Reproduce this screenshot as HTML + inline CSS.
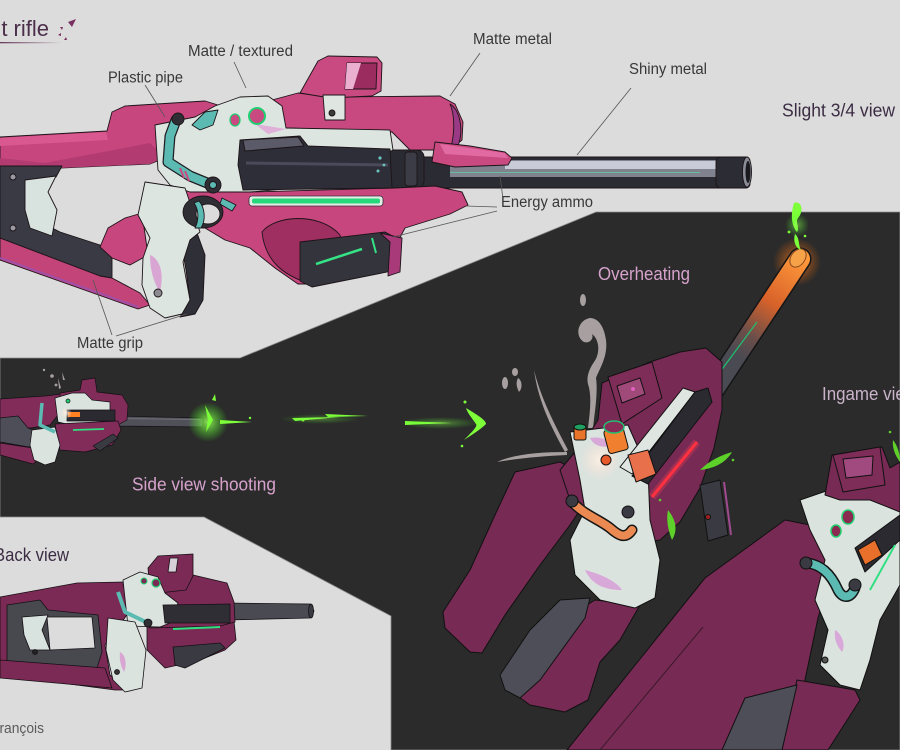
<!DOCTYPE html>
<html><head><meta charset="utf-8"><style>
html,body{margin:0;padding:0;background:#dcdcdc;overflow:hidden}
svg{display:block}
text{font-family:"Liberation Sans",sans-serif}
</style></head><body>
<svg width="900" height="750" viewBox="0 0 900 750" xmlns="http://www.w3.org/2000/svg">
<defs>
 <radialGradient id="gglow"><stop offset="0" stop-color="#9dff5a" stop-opacity="0.85"/><stop offset="1" stop-color="#40ff20" stop-opacity="0"/></radialGradient>
 <radialGradient id="oglow"><stop offset="0" stop-color="#ff8a30" stop-opacity="0.75"/><stop offset="1" stop-color="#ff6a00" stop-opacity="0"/></radialGradient>
 <radialGradient id="wglow"><stop offset="0" stop-color="#fff2e6" stop-opacity="0.9"/><stop offset="1" stop-color="#ffe0d0" stop-opacity="0"/></radialGradient>
 <linearGradient id="ul" x1="0" x2="1"><stop offset="0" stop-color="#6a3a5a"/><stop offset="1" stop-color="#6a3a5a" stop-opacity="0"/></linearGradient>
 <linearGradient id="hot" x1="803" y1="257" x2="713" y2="387" gradientUnits="userSpaceOnUse"><stop offset="0" stop-color="#ff9a3a"/><stop offset="0.35" stop-color="#d8622a"/><stop offset="0.6" stop-color="#6a4e4a"/><stop offset="0.75" stop-color="#4a4a52"/></linearGradient>
 <filter id="blur2"><feGaussianBlur stdDeviation="2"/></filter>
 <filter id="blur1"><feGaussianBlur stdDeviation="1"/></filter>
</defs>

<!-- backgrounds -->
<rect width="900" height="750" fill="#dcdcdc"/>
<polygon points="0,358 240,358 596,212 900,212 900,750 391,750 391,616 204,517 0,517" fill="#2b2b2b" stroke="#8a8a8a" stroke-width="0.8"/>

<!-- title -->
<text x="49" y="36" font-size="22" fill="#4b2f4a" text-anchor="end">Assault rifle</text>
<rect x="0" y="42" width="62" height="1.3" fill="url(#ul)"/>
<path d="M68,22 l8,-3 l-4,8 z M60,27 l3,0 l-1,3 z M58,35 l3,-2 l0,3 z M64,40 l2,-3 l1,3 z" fill="#7a3060"/>

<!-- ============ MAIN RIFLE ============ -->
<g stroke="#1c1418" stroke-width="0.9" stroke-linejoin="round">
 <!-- barrel -->
 <rect x="405" y="157" width="345" height="31" rx="4" fill="#2b2b33"/>
 <rect x="450" y="160" width="268" height="17" fill="#80828f" stroke="none"/>
 <rect x="505" y="161" width="213" height="8" fill="#c8cad8" stroke="none"/>
 <line x1="450" y1="172.5" x2="700" y2="172.5" stroke="#5fd0a0" stroke-width="0.8"/>
 <rect x="716" y="157" width="34" height="31" rx="5" fill="#2c2c34"/>
 <ellipse cx="747" cy="172" rx="4.5" ry="15" fill="#8a8c98"/>
 <ellipse cx="748" cy="172" rx="2.5" ry="11" fill="#1a1a1e" stroke="none"/>
 <rect x="386" y="150" width="38" height="38" rx="7" fill="#2a2a32"/>
 <rect x="405" y="152" width="12" height="34" rx="3" fill="#3c3c46"/>

 <!-- stock upper bar -->
 <polygon points="0,137 107,131 112,112 125,106 205,101 218,105 205,125 180,140 165,158 150,164 60,168 0,170" fill="#c8467e"/>
 <polygon points="0,158 45,163 150,143 165,157 150,164 60,168 0,170" fill="#b23c72" stroke="none"/>
 <polygon points="0,138 106,132 108,140 0,146" fill="#d9588f" stroke="none"/>
 <!-- stock dark frame -->
 <polygon points="0,166 62,166 56,177 27,180 27,215 60,232 100,245 112,252 112,278 100,276 0,238" fill="#3a3a44"/>
 <polygon points="25,180 56,176 48,192 57,210 52,236 30,228 25,210" fill="#d8e2de"/>
 <circle cx="13" cy="177" r="3" fill="#9a9aa2"/>
 <circle cx="13" cy="228" r="3" fill="#9a9aa2"/>
 <polygon points="100,247 108,228 125,218 142,213 148,255 130,265 112,258" fill="#c8467e"/>
 <polygon points="0,238 100,276 112,278 140,293 150,305 138,309 0,260" fill="#c24478"/>
 <line x1="0" y1="258" x2="138" y2="307" stroke="#a050a8" stroke-width="2"/>

 <!-- lower body -->
 <polygon points="180,190 250,192 395,188 435,186 462,192 468,205 450,214 405,228 396,245 330,260 312,284 298,284 275,268 250,248 225,240 205,228 195,210" fill="#c8467e"/>
 <path d="M262,232 C275,215 320,212 340,235 C345,255 325,272 305,282 C285,275 265,262 262,232 Z" fill="#9e2f60"/>
 <!-- magazine -->
 <polygon points="300,242 385,232 400,240 397,270 312,287 300,281" fill="#34343c"/>
 <polygon points="380,233 402,238 400,272 388,276 390,242" fill="#a83a7a"/>
 <line x1="316" y1="264" x2="362" y2="249" stroke="#35e285" stroke-width="2.5"/>
 <line x1="372" y1="238" x2="376" y2="253" stroke="#35e285" stroke-width="2"/>

 <!-- upper receiver -->
 <polygon points="272,100 298,93 330,97 440,96 455,104 463,122 462,140 450,150 410,150 392,132 286,128" fill="#c84880"/>
 <path d="M450,104 C460,110 464,130 458,146 L450,150 C455,135 455,115 450,104 Z" fill="#9a3a86"/>
 <!-- sight -->
 <polygon points="300,93 318,61 328,56 377,57 382,63 381,91 372,96 330,98" fill="#c94a80"/>
 <polygon points="347,63 377,63 376,89 345,89" fill="#9a2c60"/>
 <polygon points="347,63 361,63 353,89 345,89" fill="#ebb0d0" stroke="none"/>
 <polygon points="323,95 345,95 345,120 325,120" fill="#dfe6e2"/>
 <circle cx="332" cy="113" r="3" fill="#3a3a3a"/>

 <!-- white body -->
 <polygon points="155,125 195,117 215,106 240,97 268,96 282,106 286,128 390,130 393,150 330,185 250,192 215,192 190,192 170,185 158,170" fill="#dde5e1"/>
 <polygon points="255,124 286,129 268,134" fill="#e0b0d8" stroke="none"/>
 <!-- chamber -->
 <polygon points="240,140 300,136 308,146 390,149 392,188 243,190 238,165" fill="#2e2e38"/>
 <polygon points="243,140 298,137 304,146 245,151" fill="#5a5a68"/>
 <line x1="246" y1="163" x2="388" y2="165" stroke="#4a4a5a" stroke-width="3"/>
 <g fill="#6cc6c0" stroke="none"><circle cx="380" cy="158" r="1.6"/><circle cx="384" cy="165" r="1.4"/><circle cx="378" cy="171" r="1.5"/></g>

 <!-- handguard -->
 <polygon points="435,142 470,146 505,152 512,158 508,165 455,167 432,162" fill="#c94a80"/>
 <polygon points="440,144 505,153 508,158 445,154" fill="#e26aa2" stroke="none"/>

 <!-- energy stripe -->
 <rect x="249" y="196" width="134" height="10" rx="3" fill="#e5ece8" stroke="#333" stroke-width="0.8"/>
 <rect x="252" y="198.5" width="128" height="5" rx="2" fill="#26d97a" stroke="none"/>

 <!-- grip -->
 <polygon points="180,236 197,233 205,255 203,300 195,314 180,317 190,300 186,270" fill="#2f2f37"/>
 <polygon points="145,182 185,188 200,232 190,240 183,262 190,300 182,314 165,318 150,308 142,285 143,258 150,238 138,215" fill="#dde5e1"/>
 <path d="M150,255 C158,258 165,270 160,292 C155,285 150,272 150,255 Z" fill="#d9a6d4" stroke="none"/>
 <circle cx="158" cy="293" r="4" fill="#8a8a90"/>
 <!-- trigger guard -->
 <ellipse cx="203" cy="212" rx="20" ry="16" fill="#2e2e34"/>
 <ellipse cx="208" cy="214" rx="12" ry="10" fill="#dcdcdc"/>
 <path d="M194,203 C199,210 199,220 195,228 L201,228 C206,220 205,208 199,201 Z" fill="#5bbab2"/>
 <polygon points="222,198 236,205 232,211 220,204" fill="#5bbab2"/>
 <!-- teal piece top -->
 <polygon points="192,125 205,112 218,110 213,125 200,130" fill="#5bbab2"/>
 <!-- pipe -->
 <path d="M176,120 L170,136 L168,162 L190,176 L212,185" fill="none" stroke="#1e1e22" stroke-width="11" stroke-linecap="round"/>
 <path d="M176,120 L170,136 L168,162 L190,176 L212,185" fill="none" stroke="#5bbab2" stroke-width="8.5" stroke-linecap="round" stroke-linejoin="round"/>
 <line x1="180" y1="168" x2="184" y2="178" stroke="#c94a80" stroke-width="2"/>
 <line x1="185" y1="171" x2="189" y2="181" stroke="#c94a80" stroke-width="2"/>
 <circle cx="178" cy="119" r="6" fill="#2e2e34"/>
 <circle cx="213" cy="185" r="8" fill="#2e2e34"/>
 <circle cx="213" cy="185" r="3.5" fill="#5bbab2"/>
 <!-- circles -->
 <ellipse cx="235" cy="120" rx="5" ry="6" fill="#c94a80" stroke="#20d070" stroke-width="1.3"/>
 <ellipse cx="257" cy="116" rx="8" ry="8" fill="#c94a80" stroke="#20d070" stroke-width="2"/>
</g>

<!-- labels top -->
<g stroke="#555" stroke-width="0.8">
 <line x1="145" y1="85" x2="165" y2="117"/>
 <line x1="234" y1="62" x2="246" y2="88"/>
 <line x1="480" y1="53" x2="450" y2="96"/>
 <line x1="631" y1="88" x2="577" y2="155"/>
 <line x1="497" y1="207" x2="466" y2="206"/>
 <line x1="497" y1="211" x2="393" y2="237"/>
 <line x1="500" y1="176" x2="503" y2="199"/>
 <line x1="112" y1="335" x2="93" y2="280"/>
 <line x1="116" y1="336" x2="187" y2="314"/>
</g>
<g fill="#383838" font-size="15.5">
 <text x="108" y="82.5" textLength="75" lengthAdjust="spacingAndGlyphs">Plastic pipe</text>
 <text x="188" y="56" textLength="105" lengthAdjust="spacingAndGlyphs">Matte / textured</text>
 <text x="473" y="44" textLength="79" lengthAdjust="spacingAndGlyphs">Matte metal</text>
 <text x="629" y="74" textLength="78" lengthAdjust="spacingAndGlyphs">Shiny metal</text>
 <text x="501" y="207" textLength="92" lengthAdjust="spacingAndGlyphs">Energy ammo</text>
 <text x="77" y="348" textLength="66" lengthAdjust="spacingAndGlyphs">Matte grip</text>
</g>
<text x="782" y="116.5" font-size="18.5" fill="#3b2c44" textLength="113" lengthAdjust="spacingAndGlyphs">Slight 3/4 view</text>

<!-- ============ SIDE VIEW SHOOTING ============ -->
<g stroke="#151015" stroke-width="0.7" stroke-linejoin="round">
 <polygon points="0,399 45,396 62,394 62,410 50,425 30,428 0,428" fill="#822c5a"/>
 <polygon points="0,418 18,416 28,428 55,438 58,447 35,448 0,442" fill="#4e4e58"/>
 <polygon points="0,443 33,448 40,458 33,464 0,455" fill="#822c5a"/>
 <polygon points="113,416 203,418 203,427 113,426" fill="#505058"/>
 <line x1="120" y1="418.5" x2="200" y2="419.5" stroke="#70707a" stroke-width="1"/>
 <polygon points="60,393 80,390 82,380 95,378 97,392 122,395 128,405 127,420 118,425 60,425" fill="#822c5a"/>
 <polygon points="55,398 72,393 85,393 92,400 110,402 110,420 75,426 58,422" fill="#dbe3df"/>
 <rect x="67" y="410" width="48" height="11" fill="#2a2a30"/>
 <rect x="68" y="412" width="12" height="5" fill="#ff8020" stroke="none"/>
 <circle cx="66" cy="413" r="6" fill="url(#wglow)" stroke="none"/>
 <polygon points="55,424 118,421 121,430 112,445 85,452 60,450" fill="#822c5a"/>
 <polygon points="93,446 113,434 118,438 100,451" fill="#3a3a42"/>
 <line x1="73" y1="430" x2="104" y2="429" stroke="#30e080" stroke-width="1.8"/>
 <polygon points="32,430 55,427 60,445 55,462 45,465 34,460 30,445" fill="#dbe3df"/>
 <path d="M42,403 L40,425 L55,432" fill="none" stroke="#5bbab2" stroke-width="3.5"/>
 <circle cx="68" cy="401" r="2" fill="#20d070"/>
</g>
<g fill="#a8a0a0" stroke="none">
 <circle cx="52" cy="376" r="1.8"/><circle cx="44" cy="370" r="1.2"/><circle cx="56" cy="385" r="1.4"/>
 <path d="M58,378 l3,10 l-2,1 z"/><path d="M62,372 l3,8 l-2,0 z"/>
</g>
<!-- muzzle flash & streaks -->
<circle cx="208" cy="422" r="20" fill="url(#gglow)"/>
<g fill="#7dff3a" stroke="none">
 <path d="M205,405 L213,420 L206,432 L208,420 Z"/>
 <path d="M212,400 l3,-6 l1,7 z"/>
 <path d="M220,420 L252,422 L220,424 Z"/>
 <path d="M292,418 L340,417 L295,421 Z"/>
 <path d="M325,414 L368,416 L328,417 Z"/>
 <path d="M405,421 L452,423 L405,425 Z"/>
 <path d="M466,408 C476,414 486,420 486,424 C480,430 470,436 464,440 C472,432 478,426 476,424 C472,418 468,414 466,408 Z"/>
 <circle cx="303" cy="420" r="1.5"/><circle cx="250" cy="418" r="1.2"/><circle cx="465" cy="402" r="1.5"/><circle cx="462" cy="446" r="1.3"/>
</g>
<ellipse cx="440" cy="423" rx="40" ry="6" fill="url(#gglow)" opacity="0.5"/>
<ellipse cx="320" cy="419" rx="40" ry="5" fill="url(#gglow)" opacity="0.4"/>
<text x="132" y="490.5" font-size="18.5" fill="#d6a2cc" textLength="144" lengthAdjust="spacingAndGlyphs">Side view shooting</text>

<!-- ============ BACK VIEW ============ -->
<text x="-6" y="561" font-size="18.5" fill="#3b2c44" textLength="75" lengthAdjust="spacingAndGlyphs">Back view</text>
<text x="-9" y="733" font-size="14.5" fill="#5a5a5a" textLength="53" lengthAdjust="spacingAndGlyphs">François</text>
<g stroke="#151015" stroke-width="0.8" stroke-linejoin="round">
 <polygon points="225,603 310,604 314,611 310,618 225,620" fill="#4a4a52"/>
 <ellipse cx="311" cy="611" rx="2.5" ry="7" fill="#3a3a42"/>
 <polygon points="0,597 77,583 123,582 130,610 120,625 105,645 110,675 130,690 115,690 0,675" fill="#7b2a55"/>
 <polygon points="7,605 40,600 48,610 98,615 102,652 97,668 40,668 7,665" fill="#48484f"/>
 <polygon points="47,617 92,617 95,648 50,650" fill="#dcdcdc"/>
 <polygon points="22,617 48,615 42,630 50,650 30,650 24,635" fill="#d8e2de"/>
 <circle cx="35" cy="652" r="2.5" fill="#222"/>
 <polygon points="0,660 105,668 112,688 0,678" fill="#7b2a55"/>
 <polygon points="147,615 233,612 236,640 225,650 200,660 165,668 147,650" fill="#7b2a55"/>
 <polygon points="173,647 220,643 225,648 185,668 175,665" fill="#3a3a42"/>
 <polygon points="123,585 150,575 193,575 227,583 234,602 235,622 220,626 150,628" fill="#7b2a55"/>
 <polygon points="148,568 158,556 193,554 193,576 186,590 150,594" fill="#7b2a55"/>
 <polygon points="170,558 178,558 176,572 168,572" fill="#d8d0d8"/>
 <polygon points="123,580 140,572 158,577 165,593 178,603 170,623 160,627 128,626" fill="#dbe3df"/>
 <polygon points="163,605 230,604 230,623 165,623" fill="#2e2e34"/>
 <line x1="173" y1="629" x2="220" y2="627" stroke="#30e080" stroke-width="2"/>
 <polygon points="108,618 135,622 146,650 142,688 125,692 113,680 106,650" fill="#dbe3df"/>
 <path d="M120,652 C126,655 127,665 124,672 C121,666 119,660 120,652 Z" fill="#d9a6d4" stroke="none"/>
 <circle cx="117" cy="672" r="2.5" fill="#333"/>
 <path d="M118,592 L125,612 L150,624" fill="none" stroke="#5bbab2" stroke-width="4"/>
 <circle cx="148" cy="623" r="4" fill="#2e2e34"/>
 <circle cx="144" cy="581" r="3" fill="#7b2a55" stroke="#20d070" stroke-width="1"/>
 <circle cx="156" cy="583" r="4" fill="#7b2a55" stroke="#20d070" stroke-width="1.2"/>
</g>

<!-- ============ OVERHEATING ============ -->
<text x="598" y="280" font-size="18.5" fill="#d6a2cc" textLength="92" lengthAdjust="spacingAndGlyphs">Overheating</text>
<circle cx="797" cy="262" r="24" fill="url(#oglow)"/>
<line x1="800" y1="259" x2="712" y2="392" stroke="#151518" stroke-width="23" stroke-linecap="round"/>
<line x1="800" y1="259" x2="712" y2="392" stroke="url(#hot)" stroke-width="20" stroke-linecap="round"/>
<line x1="757" y1="322" x2="717" y2="376" stroke="#20c070" stroke-width="1.2"/>
<ellipse cx="798" cy="258" rx="10" ry="7" transform="rotate(-55 798 258)" fill="#f5a248" stroke="#8a4a20" stroke-width="1"/>
<g fill="#7dff3a" stroke="none">
 <path d="M794,203 C802,200 804,212 798,218 C795,222 800,228 797,232 C792,226 790,216 794,203 Z"/>
 <path d="M795,234 C800,238 798,245 801,250 C795,248 793,240 795,234 Z"/>
 <circle cx="789" cy="232" r="1.4"/><circle cx="805" cy="236" r="1.3"/>
</g>
<circle cx="797" cy="225" r="12" fill="url(#gglow)" opacity="0.6"/>
<!-- smoke -->
<g fill="#a8a0a0" stroke="none">
 <ellipse cx="583" cy="300" rx="3" ry="6"/>
 <path d="M590,318 C578,320 574,336 584,342 C590,344 594,338 592,334 C600,340 600,354 594,362 C590,368 586,376 588,384 C592,396 590,412 588,428 L593,428 C595,410 598,392 596,378 C600,368 608,356 606,340 C604,326 598,318 590,318 Z"/>
 <ellipse cx="505" cy="383" rx="3" ry="6"/>
 <ellipse cx="515" cy="372" rx="3" ry="4"/>
 <path d="M518,378 C522,380 523,388 519,392 C516,386 516,382 518,378 Z"/>
 <path d="M534,370 C540,395 552,420 568,450 L565,452 C550,425 538,400 534,370 Z"/>
 <path d="M497,462 C515,454 540,452 567,452 L567,455 C545,456 520,458 497,462 Z"/>
</g>
<g stroke="#111" stroke-width="1" stroke-linejoin="round">
 <!-- upper prong -->
 <polygon points="515,472 560,462 585,475 590,495 570,525 540,565 505,615 482,653 470,652 445,628 443,612 470,570 495,515" fill="#772a54"/>
 <!-- lower prong -->
 <polygon points="595,600 640,605 620,640 600,662 588,700 565,712 530,705 512,692 520,670 555,625" fill="#772a54"/>
 <polygon points="560,600 590,598 585,618 540,680 520,698 505,690 500,675 530,630" fill="#4e4e58"/>
 <!-- receiver -->
 <polygon points="602,383 650,362 680,352 706,348 722,362 722,410 714,448 700,488 680,522 660,540 630,545 595,520 570,500 560,470 585,440 598,420" fill="#772a54"/>
 <!-- white -->
 <polygon points="570,432 628,425 648,470 650,520 660,560 655,598 635,608 600,600 575,575 570,540 585,510 580,480" fill="#dbe3df"/>
 <circle cx="600" cy="460" r="20" fill="url(#wglow)" stroke="none"/>
 <path d="M585,570 C600,574 615,580 622,590 C605,590 592,585 585,570 Z" fill="#d8a8d8" stroke="none"/>
 <path d="M590,438 C600,436 610,440 612,446 C602,448 594,446 590,438 Z" fill="#d8a8d8" stroke="none"/>
 <!-- ejection strip & chamber -->
 <polygon points="683,388 695,392 632,474 620,467" fill="#dfe6e2"/>
 <polygon points="695,392 708,388 712,402 648,484 632,476" fill="#2a2a30"/>
 <polygon points="628,455 648,450 656,474 636,482" fill="#e8704a"/>
 <line x1="697" y1="442" x2="652" y2="497" stroke="#ff4050" stroke-width="8" opacity="0.3"/>
 <line x1="697" y1="442" x2="652" y2="497" stroke="#ff3040" stroke-width="3"/>
 <!-- sight -->
 <polygon points="608,377 652,362 662,398 622,424" fill="#7e2c58"/>
 <polygon points="617,386 640,378 645,394 622,403" fill="#a04a7a"/>
 <circle cx="633" cy="389" r="2" fill="#e060c0" stroke="none"/>
 <!-- orange bits -->
 <rect x="574" y="426" width="12" height="14" rx="2" fill="#e8742a"/>
 <ellipse cx="580" cy="427" rx="6" ry="3" fill="#20a060"/>
 <rect x="606" y="428" width="20" height="24" rx="3" fill="#f08030" transform="rotate(-15 616 440)"/>
 <ellipse cx="614" cy="427" rx="10" ry="6" fill="#8a2c58" stroke="#20c070" stroke-width="1.5"/>
 <circle cx="606" cy="460" r="5" fill="#e85a2a"/>
 <!-- pipe -->
 <path d="M573,503 C585,515 600,520 610,528 C618,535 625,540 632,530" fill="none" stroke="#151515" stroke-width="11" stroke-linecap="round"/>
 <path d="M573,503 C585,515 600,520 610,528 C618,535 625,540 632,530" fill="none" stroke="#ea8a52" stroke-width="8" stroke-linecap="round"/>
 <circle cx="572" cy="501" r="6" fill="#3a3a42"/>
 <circle cx="628" cy="512" r="6" fill="#3a3a42"/>
 <!-- dropped mag -->
 <polygon points="700,485 720,480 728,535 708,541" fill="#3a3a42"/>
 <line x1="724" y1="482" x2="731" y2="535" stroke="#a04a90" stroke-width="2"/>
 <circle cx="708" cy="517" r="2.5" fill="#a02020"/>
</g>
<g fill="#5ed02a" stroke="none">
 <path d="M700,470 C710,460 722,455 732,452 C726,462 716,468 700,470 Z"/>
 <path d="M668,510 C676,520 678,530 672,540 C668,530 666,520 668,510 Z"/>
 <circle cx="660" cy="500" r="1.3"/><circle cx="733" cy="460" r="1.3"/>
</g>

<!-- ============ INGAME ============ -->
<text x="822" y="400" font-size="18.5" fill="#c9b3c9" textLength="95" lengthAdjust="spacingAndGlyphs">Ingame view</text>
<g stroke="#111" stroke-width="1" stroke-linejoin="round">
 <polygon points="705,578 785,520 825,528 835,560 818,618 805,680 775,750 567,750" fill="#772a54"/>
 <line x1="703" y1="627" x2="600" y2="750" stroke="#3a1a2a" stroke-width="1"/>
 <polygon points="797,680 855,690 860,700 828,750 782,750" fill="#772a54"/>
 <polygon points="745,698 797,685 782,750 722,750" fill="#4e4e58"/>
 <polygon points="800,500 835,488 870,495 900,505 900,585 880,620 870,660 860,690 840,685 820,665 828,630 815,600 825,560 810,530" fill="#dbe3df"/>
 <path d="M835,630 C842,634 846,645 842,652 C836,645 834,638 835,630 Z" fill="#d8a8d8" stroke="none"/>
 <polygon points="825,495 832,455 882,447 890,468 900,462 900,512 870,500 840,500" fill="#772a54"/>
 <polygon points="833,455 880,447 885,485 843,492" fill="#7e2c58"/>
 <polygon points="843,459 873,456 872,475 846,478" fill="#a04a80"/>
 <polygon points="855,548 900,515 900,540 865,572" fill="#2a2a30"/>
 <polygon points="858,550 875,540 882,555 865,565" fill="#e8702a"/>
 <line x1="895" y1="545" x2="870" y2="590" stroke="#30e080" stroke-width="2"/>
 <ellipse cx="848" cy="517" rx="6" ry="7" fill="#8a2a50" stroke="#20d070" stroke-width="1.5"/>
 <ellipse cx="836" cy="531" rx="5" ry="6" fill="#8a2a50" stroke="#20d070" stroke-width="1.5"/>
 <path d="M808,563 C820,565 830,572 838,590 C842,598 850,600 855,588" fill="none" stroke="#151515" stroke-width="11" stroke-linecap="round"/>
 <path d="M808,563 C820,565 830,572 838,590 C842,598 850,600 855,588" fill="none" stroke="#5bbab2" stroke-width="8" stroke-linecap="round"/>
 <circle cx="806" cy="563" r="6" fill="#3a3a42"/>
 <circle cx="855" cy="585" r="6" fill="#3a3a42"/>
 <circle cx="825" cy="660" r="3" fill="#555"/>
</g>
<g fill="#5ed02a" stroke="none">
 <path d="M893,440 C898,446 900,455 900,462 C895,455 892,448 893,440 Z"/>
 <circle cx="890" cy="432" r="1.3"/>
</g>
</svg>
</body></html>
